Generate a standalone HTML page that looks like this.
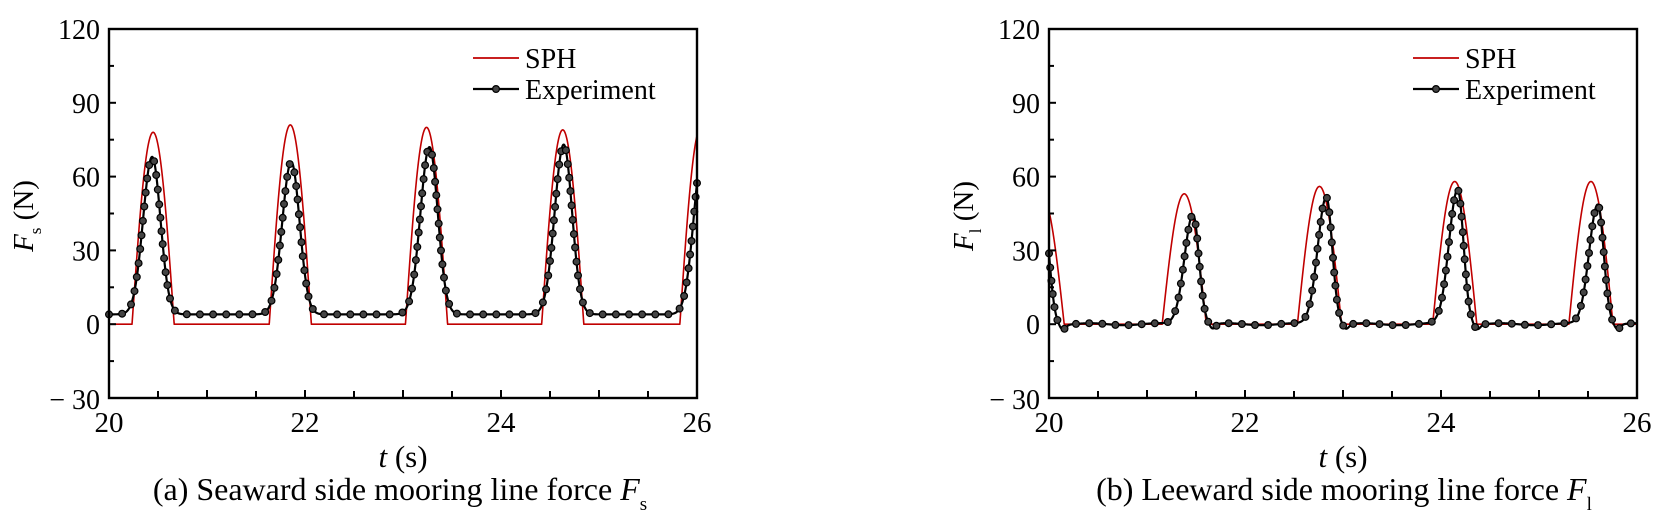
<!DOCTYPE html>
<html><head><meta charset="utf-8">
<style>
html,body{margin:0;padding:0;background:#fff;}
svg{display:block;font-family:"Liberation Serif",serif;}
</style></head>
<body>
<svg id="s" width="1655" height="518" xmlns="http://www.w3.org/2000/svg"></svg>
<script>
const S=document.getElementById('s');
let h='';
const T0=20,T1=26,YMIN=-30,YMAX=120,TOP=29,BOT=398,W=588;
function panel(L,sph,exp,ylab,sub,cap,capx){
  const X=t=>L+(t-T0)/(T1-T0)*W, Y=v=>BOT-(v-YMIN)/(YMAX-YMIN)*(BOT-TOP);
  const id='c'+L;
  h+=`<clipPath id="${id}"><rect x="${L}" y="${TOP}" width="${W}" height="${BOT-TOP}"/></clipPath>`;
  let p='';
  for(let t=T0;t<=T1+1e-9;t+=0.002){p+=(p?'L':'M')+X(t).toFixed(2)+','+Y(sph(t)).toFixed(2);}
  h+=`<path d="${p}" fill="none" stroke="#c00000" stroke-width="1.6" clip-path="url(#${id})"/>`;
  let pts=[];
  for(let t=T0;t<=T1+1e-9;t+=0.002){pts.push([X(t),Y(exp(t))]);}
  p='';pts.forEach(q=>p+=(p?'L':'M')+q[0].toFixed(2)+','+q[1].toFixed(2));
  h+=`<path d="${p}" fill="none" stroke="#000" stroke-width="2.2" clip-path="url(#${id})"/>`;
  let acc=99,prev=null;
  pts.forEach(q=>{ if(prev) acc+=Math.hypot(q[0]-prev[0],q[1]-prev[1]); prev=q;
    if(acc>=13){acc=0;h+=`<circle cx="${q[0].toFixed(1)}" cy="${q[1].toFixed(1)}" r="3.4" fill="#444" stroke="#000" stroke-width="1.2"/>`;}});
  h+=`<rect x="${L}" y="${TOP}" width="${W}" height="${BOT-TOP}" fill="none" stroke="#000" stroke-width="2.4"/>`;
  for(let v=-30;v<=120;v+=15){const y=Y(v);const len=(v%30==0)?7:5;h+=`<line x1="${L}" y1="${y}" x2="${L+len}" y2="${y}" stroke="#000" stroke-width="2"/>`;}
  for(let t=20;t<=26;t+=0.5){const x=X(t);const len=(t%1==0)?8:7;h+=`<line x1="${x}" y1="${BOT}" x2="${x}" y2="${BOT-len}" stroke="#000" stroke-width="2"/>`;}
  for(let v=0;v<=120;v+=30){h+=`<text x="${L-9}" y="${Y(v)+10}" font-size="28" text-anchor="end">${v}</text>`;}
  h+=`<text x="${L-9}" y="${Y(-30)+11}" font-size="28" text-anchor="end">− 30</text>`;
  for(let t=20;t<=26;t+=2){h+=`<text x="${X(t)}" y="432" font-size="29" text-anchor="middle">${t}</text>`;}
  h+=`<text x="${L+W/2}" y="467" font-size="31" text-anchor="middle"><tspan font-style="italic">t</tspan> (s)</text>`;
  h+=`<text transform="translate(${L-76},216) rotate(-90)" font-size="29" text-anchor="middle"><tspan font-style="italic">F</tspan><tspan font-size="17" dy="8">${sub}</tspan><tspan dy="-8"> (N)</tspan></text>`;
  h+=`<text x="${capx}" y="500" font-size="32" text-anchor="middle">${cap} <tspan font-style="italic">F</tspan><tspan font-size="19" dy="10">${sub}</tspan></text>`;
  const lx=L+364;
  h+=`<line x1="${lx}" y1="58" x2="${lx+46}" y2="58" stroke="#c00000" stroke-width="1.8"/>`;
  h+=`<text x="${lx+52}" y="68" font-size="28">SPH</text>`;
  h+=`<line x1="${lx}" y1="89" x2="${lx+46}" y2="89" stroke="#000" stroke-width="2.2"/>`;
  h+=`<circle cx="${lx+23}" cy="89" r="3.4" fill="#444" stroke="#000" stroke-width="1.2"/>`;
  h+=`<text x="${lx+52}" y="99" font-size="28">Experiment</text>`;
}
function pulse(t,tp,A,w){const d=t-tp; if(Math.abs(d)>w) return 0; return A*Math.cos(Math.PI/2*d/w);}
function g(t,tp,A,s1,s2){const d=t-tp;const s=d<0?s1:s2;return A*Math.exp(-0.5*(d/s)*(d/s));}
const sphA=t=>{let v=0;[[20.45,78],[21.85,81],[23.24,80],[24.63,79],[26.04,80]].forEach(p=>v+=pulse(t,p[0],p[1],0.215));return v;};
const expA=t=>{let v=4;[[20.44,64],[21.86,62],[23.27,68],[24.64,69],[26.06,66]].forEach(p=>v+=g(t,p[0],p[1],0.092,0.085));return v;};
const sphB=t=>{let v=0;[[19.93,52],[21.38,53],[22.76,56],[24.14,58],[25.53,58]].forEach(p=>v+=pulse(t,p[0],p[1],0.225));return Math.max(v,0);};
const expB=t=>{let v=0;[[19.94,48],[21.47,45],[22.83,52],[24.17,55],[25.6,49]].forEach(p=>{v+=g(t,p[0],p[1],0.088,0.06);v-=2*Math.exp(-0.5*Math.pow((t-p[0]-0.2)/0.03,2));});
  v+=0.4*Math.sin(t*9);return v;};
panel(109,sphA,expA,'F','s','(a) Seaward side mooring line force',400);
panel(1049,sphB,expB,'F','l','(b) Leeward side mooring line force',1344);
S.innerHTML=h;
</script>
</body></html>
